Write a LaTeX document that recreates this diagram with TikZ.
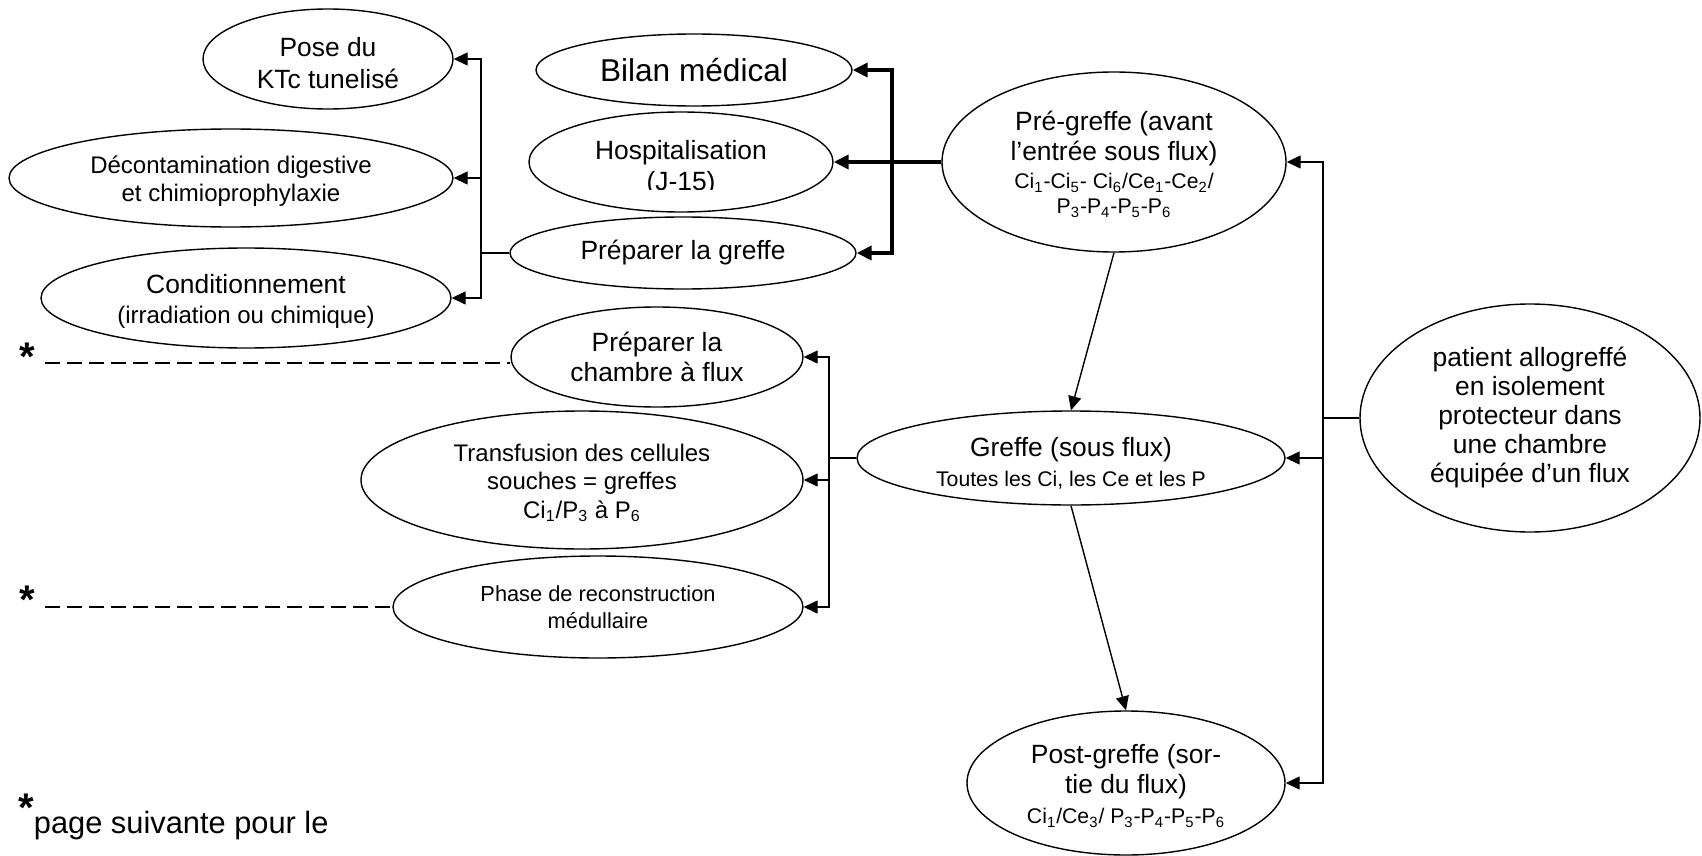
\documentclass[tikz,border=0pt]{standalone}
\usepackage{fontspec}
\setmainfont{Liberation Sans}
\usetikzlibrary{arrows.meta,shapes.geometric}

\newcommand{\fsz}[2]{\fontsize{#1}{#2}\selectfont}
\newcommand{\sbs}[1]{\textsubscript{#1}}
% invisible strut that lowers a centred block of lines a little
\newcommand{\toppad}[1]{\rule{0pt}{#1}}

\begin{document}
\begin{tikzpicture}[x=0.5pt,y=-0.5pt,
  oval/.style 2 args={ellipse, draw, line width=0.7pt, inner sep=0pt,
    minimum width=#1pt, minimum height=#2pt, align=center},
  fnorm/.style={font=\fsz{13.2}{15}},
  fmed/.style={font=\fsz{12}{14}},
  link/.style={line width=0.7pt},
  arr/.style={line width=0.7pt, -{Triangle[length=7pt,width=6.5pt]}},
  tarr/.style={line width=2.2pt, -{Triangle[length=7.5pt,width=7pt]}},
  dsh/.style={line width=0.7pt, dash pattern=on 7.5pt off 3.5pt},
  starmark/.style={inner sep=0pt, font=\fsz{20}{20}\bfseries}
]
\useasboundingbox (0,0) rectangle (1702,856);

% ---- preparation branch ----
\node[oval={125}{50}, font=\fsz{13.2}{16}] (pose) at (328,59) {\toppad{14pt}Pose du\\KTc tunelisé};
\node[oval={222}{49}, fmed] (decon) at (231,178) {\toppad{12pt}Décontamination digestive\\et chimioprophylaxie};
\node[oval={205}{50}, fnorm] (cond) at (246,298) {\toppad{13pt}Conditionnement\\{\fsz{12}{14}(irradiation ou chimique)}};

\node[oval={158}{36}, font=\fsz{15.8}{18}] (bilan) at (694,70) {Bilan médical};
\node[oval={152}{50}] (hosp) at (681,162) {};
\begin{scope}
  \clip (529,112) rectangle (833,189);
  \node[fnorm, anchor=base, inner sep=0pt] (hosp-a) at (681,159) {Hospitalisation};
  \node[fnorm, anchor=base, inner sep=0pt] (hosp-b) at (681,191) {(J-15)};
\end{scope}
\node[oval={173}{36}, fnorm] (prep) at (683,253) {Préparer la greffe};

% ---- graft branch ----
\node[oval={146}{50}, fnorm] (chambre) at (657,357) {Préparer la\\chambre à flux};
\node[oval={221}{69}, font=\fsz{12}{14.2}] (transf) at (582,480)
  {\toppad{11.8pt}Transfusion des cellules\\souches = greffes\\Ci\sbs{1}/P\sbs{3} à P\sbs{6}};
\node[oval={205}{51}, font=\fsz{10.9}{13.5}] (phase) at (598,607) {Phase de reconstruction\\médullaire};

% ---- main phases ----
\node[oval={172}{90}, fnorm] (pre) at (1114,162)
  {\toppad{12.1pt}Pré-greffe (avant\\l’entrée sous flux)\\[-1pt]
   {\fsz{10.6}{12}Ci\sbs{1}-Ci\sbs{5}- Ci\sbs{6}/Ce\sbs{1}-Ce\sbs{2}/}\\[-2.5pt]
   {\fsz{10.6}{12}P\sbs{3}-P\sbs{4}-P\sbs{5}-P\sbs{6}}};
\node[oval={214}{47}, fnorm] (greffe) at (1071,458)
  {\toppad{15pt}Greffe (sous flux)\\{\fsz{10.6}{12}Toutes les Ci, les Ce et les P}};
\node[oval={159}{72}, fnorm] (post) at (1126,783)
  {\toppad{12.6pt}Post-greffe (sor-\\tie du flux)\\{\fsz{10.6}{12}Ci\sbs{1}/Ce\sbs{3}/ P\sbs{3}-P\sbs{4}-P\sbs{5}-P\sbs{6}}};
\node[oval={170}{114}, font=\fsz{13.2}{14.5}] (patient) at (1530,418)
  {patient allogreffé\\en isolement\\protecteur dans\\une chambre\\équipée d’un flux};

% ---- junctions ----
\coordinate (jA) at (892,162);
\coordinate (jB) at (481,253);
\coordinate (jC) at (829,458);
\coordinate (jD) at (1323,418);

% patient -> phases
\draw[link] (patient.west) -- (jD);
\draw[arr] (jD) |- (pre.east);
\draw[arr] (jD) -- (greffe.east -| jD) -- (greffe.east);
\draw[arr] (jD) |- (post.east);

% pre-graft -> its tasks (bold)
\draw[tarr] (pre.west) -- (hosp.east);
\draw[tarr] (jA) |- (bilan.east);
\draw[tarr] (jA) |- (prep.east);

% preparing the graft -> sub-tasks
\draw[link] (prep.west) -- (jB);
\draw[arr] (jB) |- (pose.east);
\draw[arr] (jB) |- (decon.east);
\draw[arr] (jB) |- (cond.east);

% graft -> its tasks
\draw[link] (greffe.west) -- (jC);
\draw[arr] (jC) |- (chambre.east);
\draw[arr] (jC) |- (transf.east);
\draw[arr] (jC) |- (phase.east);

% sequence
\draw[arr] (pre.south) -- (greffe.north);
\draw[arr] (greffe.south) -- (post.north);

% references to the next page
\node[starmark] (st1) at (27,357) {*};
\node[starmark] (st2) at (27,600) {*};
\coordinate (d1) at (45,363);
\coordinate (d2) at (45,607);
\draw[dsh] (d1) -- (d1 -| chambre.west);
\draw[dsh] (d2) -- (phase.west);

\node[anchor=base west, inner sep=0pt, font=\fsz{15.4}{18}] (note) at (18,833)
  {\raisebox{6pt}{\fsz{20}{20}\bfseries *}page suivante pour le};
\end{tikzpicture}
\end{document}
